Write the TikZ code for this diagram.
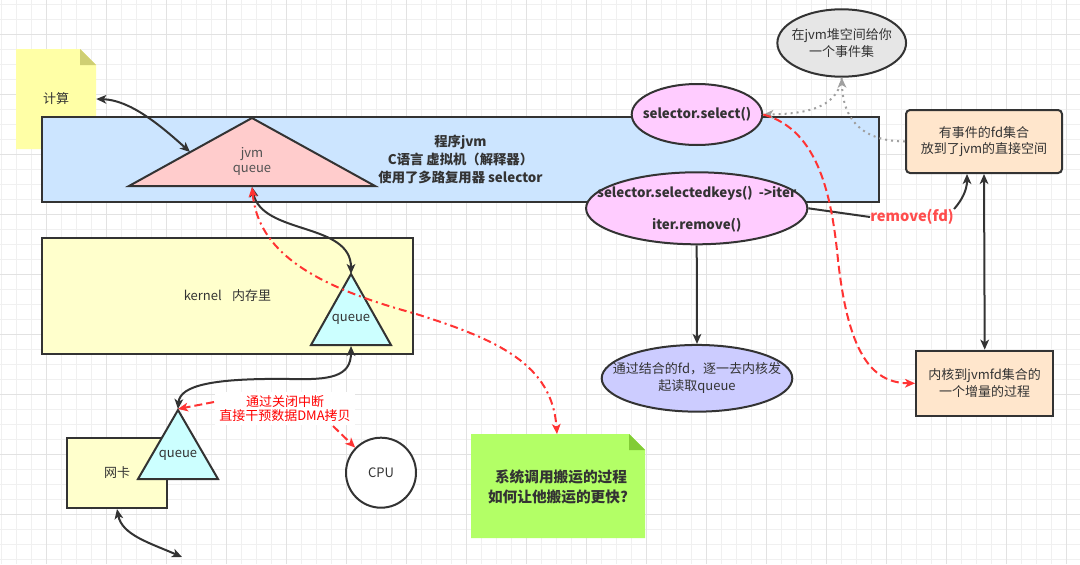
\documentclass[tikz,border=0pt]{standalone}
\usepackage{fontspec}
\setmainfont{Noto Sans CJK SC}
\usetikzlibrary{arrows.meta,calc,shapes.geometric}
\definecolor{dk}{HTML}{333333}
\definecolor{gridmin}{HTML}{F0F0F0}
\definecolor{gridmaj}{HTML}{E2E2E2}
\definecolor{noteyel}{HTML}{FFFFA6}
\definecolor{notefold}{HTML}{CFCF73}
\definecolor{jvmblue}{HTML}{CCE5FF}
\definecolor{pinktri}{HTML}{FFCCCC}
\definecolor{kernyel}{HTML}{FFFFCC}
\definecolor{cyantri}{HTML}{CCFFFF}
\definecolor{greennote}{HTML}{B3FF66}
\definecolor{greenfold}{HTML}{82CC36}
\definecolor{pinkell}{HTML}{FFCCFF}
\definecolor{grayell}{HTML}{E6E6E6}
\definecolor{orangebox}{HTML}{FFE6CC}
\definecolor{blueell}{HTML}{CCCCFF}
\definecolor{redline}{HTML}{FF3333}
\definecolor{redtext}{HTML}{FF0000}
\definecolor{redlabel}{HTML}{FF4D4D}
\definecolor{dotgray}{HTML}{A0A0A0}
\newdimen\pxu \pxu=0.75pt
\tikzset{
  every node/.style={text=dk, font=\fontsize{9.75}{12.5}\selectfont, inner sep=0pt},
  shp/.style={draw=dk, line width=1.5pt},
  ell/.style={shp, ellipse, inner sep=0pt},
  conn/.style={draw=dk, line width=1.5pt},
  redconn/.style={draw=redline, line width=1.5pt, dash pattern=on 6pt off 3pt},
  reddashdot/.style={draw=redline, line width=1.5pt, dash pattern=on 6pt off 3pt on 1.5pt off 3pt},
  grayconn/.style={draw=dotgray, line width=1.5pt, dash pattern=on 1.5pt off 3pt},
  boldtxt/.style={font=\fontsize{10}{13.5}\selectfont\bfseries},
  >={Stealth[length=7.5pt,width=6.5pt,inset=2pt]},
}
\begin{document}
\begin{tikzpicture}[x=0.75pt,y=-0.75pt]
\useasboundingbox (0,0) rectangle (1080,564);
\fill[white] (0,0) rectangle (1080,564);
% grid
\foreach \x in {1.7,16.7,...,1080} \draw[gridmin, line width=0.75pt] (\x,0) -- (\x,564);
\foreach \y in {4.3,19.3,...,564} \draw[gridmin, line width=0.75pt] (0,\y) -- (1080,\y);
\foreach \x in {46.7,106.7,...,1080} \draw[gridmaj, line width=0.75pt] (\x,0) -- (\x,564);
\foreach \y in {34.3,94.3,...,564} \draw[gridmaj, line width=0.75pt] (0,\y) -- (1080,\y);

% note 计算
\fill[noteyel] (16,49) -- (80,49) -- (96,65) -- (96,149) -- (16,149) -- cycle;
\fill[notefold] (80,49) -- (80,65) -- (96,65) -- cycle;
\node[minimum width=80\pxu, minimum height=100\pxu] (calc) at (56,99) {计算};

% jvm program box
\node[shp, fill=jvmblue, minimum width=837\pxu, minimum height=85\pxu, boldtxt, align=center] (jvm) at (460.5,159.5)
  {程序jvm\\C语言 虚拟机（解释器）\\使用了多路复用器 selector};

% jvm queue triangle
\draw[shp, fill=pinktri] (252,118) -- (129,186) -- (375,186) -- cycle;
\coordinate (jqtop) at (252,118);
\coordinate (jqbase) at (252,187);
\coordinate (jqside) at (190,152);
\node[align=center, font=\fontsize{9.75}{11.25}\selectfont, text=dk!85] (jq) at (252,161.5) {jvm\\queue};

% kernel box
\node[shp, fill=kernyel, minimum width=371\pxu, minimum height=116\pxu] (kern) at (227.5,296) {kernel\hspace{0.8em}内存里};
\draw[shp, fill=cyantri] (351,274) -- (311,345) -- (391,345) -- cycle;
\coordinate (kqtop) at (351,274);
\coordinate (kqbase) at (351,346);
\node (kq) at (351,319) {queue};

% NIC
\node[shp, fill=kernyel, minimum width=100\pxu, minimum height=70\pxu] (nic) at (117,473) {网卡};
\draw[shp, fill=cyantri] (178,410) -- (138,479) -- (218,479) -- cycle;
\coordinate (nqtop) at (178,409);
\node (nq) at (178,455) {queue};
\coordinate (nicend) at (182,557);

% CPU
\node[shp, circle, fill=white, minimum size=70\pxu] (cpu) at (381,472.7) {CPU};

% green note
\fill[greennote] (471,434) -- (629,434) -- (645,450) -- (645,538) -- (471,538) -- cycle;
\fill[greenfold] (629,434) -- (629,450) -- (645,450) -- cycle;
\node[align=center, font=\fontsize{11}{15}\selectfont\bfseries, minimum width=174\pxu, minimum height=104\pxu] (green) at (558,486.5)
  {\hspace*{6\pxu}系统调用搬运的过程\\如何让他搬运的更快?};
\coordinate (greentop) at (557,434);

% right side
\node[ell, fill=grayell, minimum width=128.7\pxu, minimum height=67.4\pxu] (gray) at (841.7,43) {};
\node[align=center] (graytxt) at (gray) {在jvm堆空间给你\\一个事件集};
\node[ell, fill=pinkell, minimum width=130.6\pxu, minimum height=61\pxu] (sel) at (697,114.5) {};
\node[boldtxt] (seltxt) at (sel) {selector.select()};
\node[ell, fill=pinkell, minimum width=221.3\pxu, minimum height=72\pxu] (sk) at (696.7,208.3) {};
\node[align=center, font=\fontsize{10}{12}\selectfont\bfseries] (sktxt) at (696.7,209)
  {selector.selectedkeys()\ \ ->iter\\[12pt]iter.remove()};
\node[ell, fill=blueell, minimum width=190.6\pxu, minimum height=66.7\pxu] (fdq) at (697,378.3) {};
\node[align=center] (fdqtxt) at (fdq) {通过结合的fd，逐一去内核发\\起读取queue};
\node[shp, rounded corners=3pt, fill=orangebox, minimum width=156\pxu, minimum height=63\pxu, align=center] (box1) at (984,141.5)
  {有事件的fd集合\\放到了jvm的直接空间};
\node[shp, fill=orangebox, minimum width=137.3\pxu, minimum height=65.3\pxu, align=center] (box2) at (984.7,383.3)
  {内核到jvmfd集合的\\一个增量的过程};
\coordinate (b1in) at (967,174);
\node[text=redlabel, font=\fontsize{11}{13}\selectfont\bfseries] (rfd) at (912,217) {remove(fd)};

% red label
\node[fill=white, text=redtext, align=center, inner xsep=3pt, inner ysep=2pt, font=\fontsize{9.75}{11}\selectfont] (lbl) at (285,408.5)
  {通过关闭中断\\直接干预数据DMA拷贝};
\coordinate (lblout) at (333,426);
\coordinate (lblin) at (214,402);

% connectors
\draw[conn, <->] (calc.east) .. controls (130,100) and (160,125) .. (jqside);
\draw[conn, <->] (jqbase) .. controls (262,235) and (351,222) .. (kqtop);
\draw[conn, <->] (kqbase) .. controls (351,377) and (330,380) .. (290,379) .. controls (215,378) and (180,385) .. (nqtop);
\draw[conn, <->] (nic.south) .. controls (122,535) and (150,543) .. (nicend);
\draw[redconn, ->] (lblin) -- (nqtop);
\draw[redconn, ->] (lblout) -- (cpu);
\draw[reddashdot, <->] (jqbase) .. controls (258,250) and (310,285) .. (413,313) .. controls (500,340) and (552,365) .. (greentop);
\draw[grayconn, ->] (box1.west) .. controls (860,141) and (843,118) .. (gray.south);
\draw[grayconn, ->] (gray.south) .. controls (838,110) and (800,114) .. (sel.east);
\draw[conn, ->] (sk.south) -- (fdq.north);
\draw[conn] (sk.east) -- (rfd.west);
\draw[conn, ->] (rfd.north east) .. controls (962,200) and (967,190) .. (b1in);
\draw[conn, <->] (box1.south) -- (box2.north);
\draw[redconn, ->] (sel.east) .. controls (820,130) and (832,200) .. (838,260) .. controls (848,350) and (870,383) .. (box2.west);
\end{tikzpicture}
\end{document}
